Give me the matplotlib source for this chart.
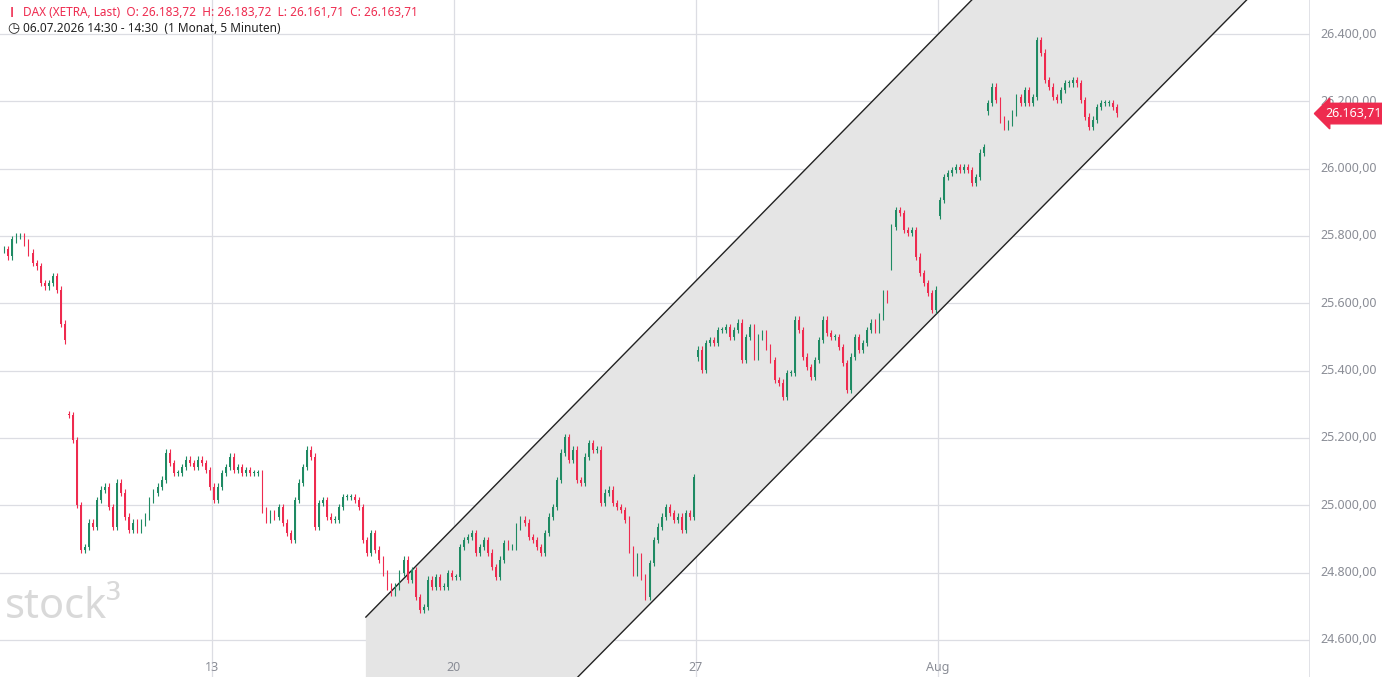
import numpy as np
import matplotlib
matplotlib.use("Agg")
import matplotlib.pyplot as plt

plt.rcParams['font.family'] = ['Noto Sans', 'DejaVu Sans']

# trading days (index 0 = Mon 06.07.2026)
day_index = [0,1,2,3,4,5,6,7,8,9,10,11,12,13,14,15,16,17,18,19,20,21,22,23]
day_open = [25760,25800,25270,24936,25076,25055,25096,25165,25016,24838,24787,24838,
            24966,25165,24728,25440,25432,25393,25470,25710,25860,26170,26213,26204]
closes = [
 [np.nan]*8 + [25760,25740,25790,25800],
 [25800,25780,25750,25720,25710,25660,25650,25660,25680,25640,25540,25490],
 [25268,25194,25001,24868,24876,24948,24936,25016,25046,25055,24995,24936],
 [25067,25037,24966,24927,24948,24927,24948,24966,25016,25037,25055,25076],
 [25156,25126,25096,25096,25114,25135,25126,25114,25135,25126,25105,25055],
 [25016,25055,25096,25114,25144,25105,25114,25096,25105,25096,25096,25096],
 [24986,24957,24977,24966,24995,24948,24918,24897,25016,25067,25114,25165],
 [25144,24936,25007,25016,24966,24957,24957,24995,25025,25025,25025,25016],
 [24995,24897,24859,24918,24868,24838,24799,24758,24740,24758,24799,24838],
 [24779,24808,24728,24689,24698,24779,24758,24787,24758,24758,24799,24787],
 [24787,24876,24897,24906,24918,24859,24876,24897,24859,24817,24787,24838],
 [24888,24876,24876,24936,24957,24948,24906,24897,24876,24859,24918,24966],
 [24995,25075,25156,25203,25135,25165,25075,25067,25144,25185,25165,25165],
 [25007,25037,25046,25007,24995,24986,24957,24868,24799,24847,24787,24728],
 [24829,24897,24936,24966,24995,24977,24957,24966,24927,24977,24966,25084],
 [25462,25402,25482,25491,25482,25521,25521,25530,25500,25521,25542,25432],
 [25500,25530,25441,25500,25512,25470,25432,25372,25364,25322,25393,25393],
 [25551,25521,25441,25411,25381,25432,25491,25551,25512,25500,25500,25470],
 [25423,25343,25441,25500,25462,25482,25521,25542,25521,25560,25631,25610],
 [25827,25877,25868,25818,25809,25818,25738,25690,25660,25631,25580,25640],
 [25907,25975,25987,25996,26005,25996,26005,25996,25958,25975,26047,26064],
 [26195,26243,26204,26145,26124,26136,26165,26213,26195,26234,26195,26213],
 [26382,26344,26263,26243,26213,26204,26234,26254,26254,26263,26254,26204],
 [26154,26124,26145,26183,26195,26195,26195,26183,26164],
]
y_ticks = [24600,24800,25000,25200,25400,25600,25800,26000,26200,26400]
x_tick_pos = [5,10,15,20]
x_tick_lab = ['13','20','27','Aug']
last_price = 26163.71
chan_upper = [(8.18,24668),(20.70,26501)]
chan_lower = [(12.56,24490),(26.38,26501)]

RED = '#ee2b4f'; GREEN = '#1f8a63'
fig = plt.figure(figsize=(13.82,6.77), dpi=100)
ax = fig.add_axes([0, 0, 1310/1382, 1])
x0, x1 = 0.62, 27.69
y0, y1 = 24490, 26501
ax.set_xlim(x0, x1); ax.set_ylim(y0, y1)

for t in y_ticks:
    ax.axhline(t, color='#dcdde3', lw=0.9, zorder=0)
for t in x_tick_pos:
    ax.axvline(t, color='#dcdde3', lw=0.9, zorder=0)

# channel
def line_at(p, x):
    (xa,ya),(xb,yb) = p
    return ya + (yb-ya)*(x-xa)/(xb-xa)
xs = np.linspace(chan_upper[0][0], x1, 400)
up = line_at(chan_upper, xs); lo = line_at(chan_lower, xs)
ax.fill_between(xs, lo, up, color='#e5e5e5', zorder=1, lw=0)
ax.plot(xs, up, color='#222222', lw=1, zorder=2)
ax.plot(xs, lo, color='#222222', lw=1, zorder=2)

wick = 10
for d, o0, cl in zip(day_index, day_open, closes):
    prev = o0
    for i, c in enumerate(cl):
        if np.isnan(c):
            continue
        x = d + (i+0.5)/12
        o = prev
        col = GREEN if c >= o else RED
        ax.vlines(x, min(o,c)-wick, max(o,c)+wick, color=col, lw=0.8, zorder=3)
        ax.bar(x, max(abs(c-o),2), bottom=min(o,c), width=0.035, color=col, zorder=3, lw=0)
        prev = c

ax.set_xticks([]); ax.set_yticks([])
for s in ax.spines.values():
    s.set_visible(False)
ax.axvline(x1, color='#dcdde3', lw=1.2)

for t in y_ticks:
    ax.text(1.008, (t-y0)/(y1-y0), f"{t:,.2f}".replace(',', 'X').replace('.', ',').replace('X', '.'),
            transform=ax.transAxes, va='center', ha='left', fontsize=9, color='#8a8d96')
for p, l in zip(x_tick_pos, x_tick_lab):
    ax.text(p, 24490 + 2.97*10, l, ha='center', va='center', fontsize=9, color='#8a8d96')

# last price tag
yy = (last_price-y0)/(y1-y0)
ax.annotate("26.163,71", xy=(1.0, yy), xycoords='axes fraction', xytext=(1.012, yy),
            va='center', ha='left', fontsize=9, color='white',
            bbox=dict(boxstyle='larrow,pad=0.3', fc=RED, ec=RED))

fig.text(23/1382, 1-12/677, "DAX (XETRA, Last)  O: 26.183,72  H: 26.183,72  L: 26.161,71  C: 26.163,71",
         fontsize=8.5, color=RED, va='center')
fig.text(8/1382, 1-12/677, "\u2759", fontsize=7, color=RED, va='center')
fig.text(7/1382, 1-29/677, "\u25f7", fontsize=10, color='#222', va='center')
fig.text(23/1382, 1-29/677, "06.07.2026 14:30 - 14:30  (1 Monat, 5 Minuten)",
         fontsize=8.5, color='#222', va='center')
fig.text(5/1382, 1-607/677, "stock\u00b3", fontsize=30, color='#d9d9d9', va='center', ha='left',
         fontweight='semibold')

fig.savefig("out.png", dpi=100)
